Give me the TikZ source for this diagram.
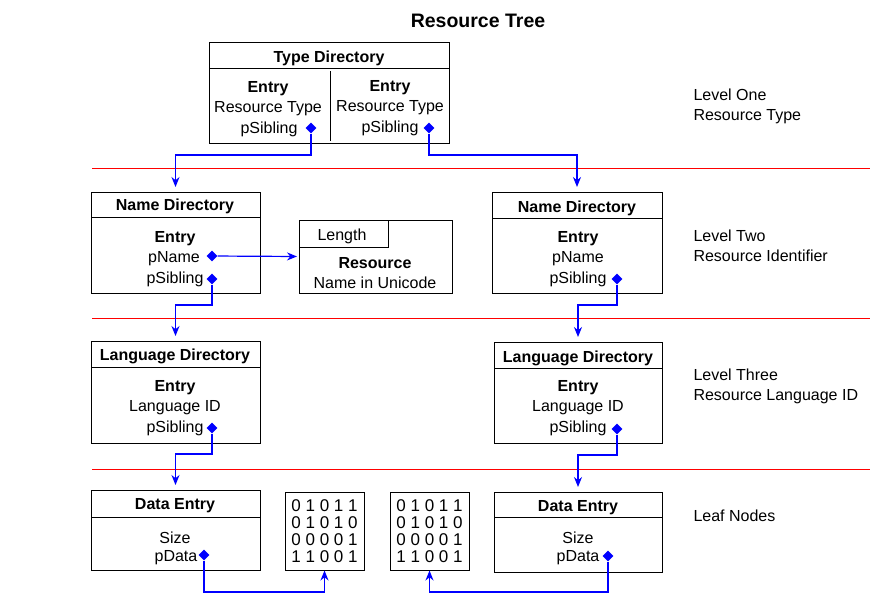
\documentclass[tikz,border=0pt]{standalone}
\usepackage{fontspec}
\setmainfont{Liberation Sans}
\usetikzlibrary{arrows.meta, shapes.geometric}

\tikzset{
  box/.style={draw, line width=1pt, anchor=north west, inner sep=0pt, outer sep=0pt},
  txt/.style={yshift=-2pt},
  head/.style={txt, font=\fontsize{16}{20}\selectfont\bfseries},
  ptr/.style={diamond, fill=blue, inner sep=0pt, minimum size=11pt},
  link/.style={draw=blue, line width=1.2pt, -{Stealth[length=10pt,width=8pt]}, shorten >=5pt},
  level/.style={red, line width=1pt},
  bits/.style={draw, line width=1pt, inner sep=0pt, align=center, minimum width=79pt, minimum height=78pt, font=\fontsize{17}{17}\selectfont},
  lbl/.style={txt, anchor=west, align=left}
}

\begin{document}
\begin{tikzpicture}[x=1pt, y=-1pt, >=Stealth, font=\fontsize{16}{20}\selectfont]
  \useasboundingbox (0,0) rectangle (883,600);
  \node[font=\fontsize{19.5}{22}\selectfont\bfseries] (title) at (478,21) {Resource Tree};

  % level one
  \node[box, minimum width=240pt, minimum height=101pt] (type) at (209,42) {};
  \draw (209,68) -- (449,68);
  \draw (330,71) -- (330,141);
  \node[head] at (329,56) {Type Directory};
  \node[head] at (268,87) {Entry};
  \node[head] at (390,86) {Entry};
  \node[txt] at (268,107) {Resource Type};
  \node[txt] at (390,106) {Resource Type};
  \node[txt] at (269,127) {pSibling};
  \node[txt] at (390,126) {pSibling};
  \node[ptr] (typeL) at (311,128) {};
  \node[ptr] (typeR) at (429,128) {};
  \node[lbl] (lvlOne) at (690,104) {Level One\\Resource Type};

  \draw[level] (92,168) -- (870,168);

  % level two
  \node[box, minimum width=169pt, minimum height=101pt] (nameL) at (91,192) {};
  \draw (91,217) -- (260,217);
  \node[head] at (175,204) {Name Directory};
  \node[head] at (175,237) {Entry};
  \node[txt] at (174,257) {pName};
  \node[txt] at (175,277) {pSibling};
  \node[ptr] (nameLn) at (212,256) {};
  \node[ptr] (nameLs) at (212,279) {};

  \node[box, minimum width=153pt, minimum height=73pt] (res) at (299,220) {};
  \draw (299,247) -- (388,247) -- (388,220);
  \node[txt] at (342,234) {Length};
  \node[head] at (375,261) {Resource};
  \node[txt] at (375,281) {Name in Unicode};

  \node[box, minimum width=170pt, minimum height=101pt] (nameR) at (492,192) {};
  \draw (492,218) -- (662,218);
  \node[head] at (577,206) {Name Directory};
  \node[head] at (578,237) {Entry};
  \node[txt] at (578,257) {pName};
  \node[txt] at (578,277) {pSibling};
  \node[ptr] (nameRs) at (617,279) {};
  \node[lbl] (lvlTwo) at (690,244) {Level Two\\Resource Identifier};

  \draw[level] (92,318) -- (870,318);

  % level three
  \node[box, minimum width=169pt, minimum height=102pt] (langL) at (91,341) {};
  \draw (91,367) -- (260,367);
  \node[head] at (175,354) {Language Directory};
  \node[head] at (175,386) {Entry};
  \node[txt] at (175,406) {Language ID};
  \node[txt] at (175,426) {pSibling};
  \node[ptr] (langLs) at (212,428) {};

  \node[box, minimum width=168pt, minimum height=101pt] (langR) at (494,342) {};
  \draw (494,368) -- (662,368);
  \node[head] at (578,356) {Language Directory};
  \node[head] at (578,386) {Entry};
  \node[txt] at (578,406) {Language ID};
  \node[txt] at (578,426) {pSibling};
  \node[ptr] (langRs) at (617,429) {};
  \node[lbl] (lvlThree) at (690,384) {Level Three\\Resource Language ID};

  \draw[level] (92,469) -- (870,469);

  % leaf nodes
  \node[box, minimum width=169pt, minimum height=80pt] (dataL) at (91,490) {};
  \draw (91,517) -- (260,517);
  \node[head] at (175,504) {Data Entry};
  \node[txt] at (175,536) {Size};
  \node[txt] at (176,556) {pData};
  \node[ptr] (dataLp) at (204,555) {};

  \node[bits] (bitsL) at (324.5,531) {0 1 0 1 1\\0 1 0 1 0\\0 0 0 0 1\\1 1 0 0 1};
  \node[bits] (bitsR) at (429.5,531) {0 1 0 1 1\\0 1 0 1 0\\0 0 0 0 1\\1 1 0 0 1};

  \node[box, minimum width=168pt, minimum height=80pt] (dataR) at (494,492) {};
  \draw (494,517) -- (662,517);
  \node[head] at (578,506) {Data Entry};
  \node[txt] at (578,536) {Size};
  \node[txt] at (578,556) {pData};
  \node[ptr] (dataRp) at (608,556) {};
  \node[lbl] (lvlLeaf) at (690,514) {Leaf Nodes};

  % pointers
  \draw[link] (typeL) -- ++(0,27) -| (nameL.north);
  \draw[link] (typeR) -- ++(0,27) -| (nameR.north);
  \draw[link, shorten >=2pt] (nameLn) -- (res.west);
  \draw[link] (nameLs) -- ++(0,26) -| (langL.north);
  \draw[link] (nameRs) -- ++(0,26) -| (langR.north);
  \draw[link] (langLs) -- ++(0,26) -| (dataL.north);
  \draw[link] (langRs) -- ++(0,26) -| (dataR.north);
  \draw[link, shorten >=0pt] (dataLp) -- ++(0,37) -| (bitsL.south);
  \draw[link, shorten >=0pt] (dataRp) -- ++(0,36) -| (bitsR.south);
\end{tikzpicture}
\end{document}
